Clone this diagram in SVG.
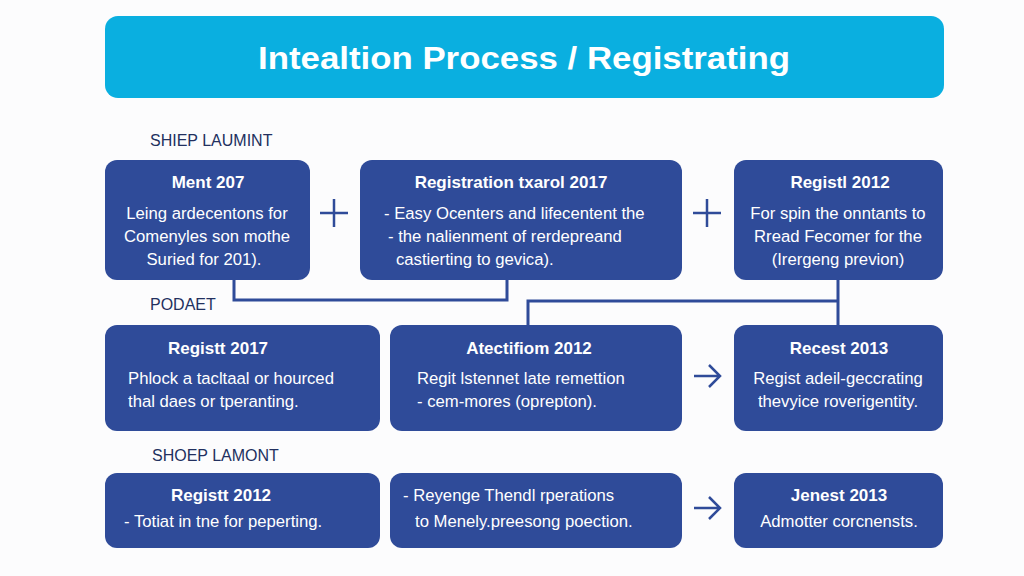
<svg xmlns="http://www.w3.org/2000/svg" width="1024" height="576" viewBox="0 0 1024 576">
<style>
.box{fill:#2f4b99}
.t{font-family:"Liberation Sans",Arial,sans-serif;font-size:17px;font-weight:bold;fill:#fff;text-anchor:middle}
.b{font-family:"Liberation Sans",Arial,sans-serif;font-size:16.7px;fill:#fff}
.c{text-anchor:middle}
.lbl{font-family:"Liberation Sans",Arial,sans-serif;font-size:16px;fill:#22305f}
.con{fill:none;stroke:#2f4b99;stroke-width:3}
.sym{fill:none;stroke:#2f4b99;stroke-width:2.5}
</style>
<rect width="1024" height="576" fill="#fcfcfd"/>
<g id="title">
<rect x="105" y="16" width="839" height="82" rx="13" fill="#0aafe0"/>
<text x="524" y="69" font-family="Liberation Sans,Arial,sans-serif" font-size="31" font-weight="bold" fill="#fff" text-anchor="middle" textLength="532" lengthAdjust="spacingAndGlyphs">Intealtion Process / Registrating</text>
</g>
<g id="labels">
<text class="lbl" x="150" y="146">SHIEP LAUMINT</text>
<text class="lbl" x="150" y="310">PODAET</text>
<text class="lbl" x="152" y="461">SHOEP LAMONT</text>
</g>
<g id="connectors">
<polyline class="con" points="234,280 234,300 507,300 507,280"/>
<polyline class="con" points="528,325 528,301 838,301"/>
<line class="con" x1="838" y1="280" x2="838" y2="325"/>
<path class="sym" d="M320 213 H348 M334 199 V227"/>
<path class="sym" d="M693 213 H721 M707 199 V227"/>
<path class="sym" d="M694 376 H719 M709 365 L720 376 L709 387"/>
<path class="sym" d="M694 508 H719 M709 497 L720 508 L709 519"/>
</g>
<g id="n1">
<rect class="box" x="105" y="160" width="205" height="120" rx="12"/>
<text class="t" x="208" y="188">Ment 207</text>
<text class="b c" x="207" y="219">Leing ardecentons for</text>
<text class="b c" x="207" y="242">Comenyles son mothe</text>
<text class="b c" x="204" y="265">Suried for 201).</text>
</g>
<g id="n2">
<rect class="box" x="360" y="160" width="322" height="120" rx="12"/>
<text class="t" x="511" y="188">Registration txarol 2017</text>
<text class="b" x="384" y="219">- Easy Ocenters and lifecentent the</text>
<text class="b" x="388" y="242">- the nalienment of rerdepreand</text>
<text class="b" x="396" y="265">castierting to gevica).</text>
</g>
<g id="n3">
<rect class="box" x="734" y="160" width="209" height="120" rx="12"/>
<text class="t" x="840" y="188">Registl 2012</text>
<text class="b c" x="838" y="219">For spin the onntants to</text>
<text class="b c" x="838" y="242">Rread Fecomer for the</text>
<text class="b c" x="838" y="265">(Irergeng previon)</text>
</g>
<g id="n4">
<rect class="box" x="105" y="325" width="275" height="106" rx="12"/>
<text class="t" x="218" y="354">Registt 2017</text>
<text class="b" x="128" y="384">Phlock a tacltaal or hourced</text>
<text class="b" x="128" y="407">thal daes or tperanting.</text>
</g>
<g id="n5">
<rect class="box" x="390" y="325" width="292" height="106" rx="12"/>
<text class="t" x="529" y="354">Atectifiom 2012</text>
<text class="b" x="417" y="384">Regit lstennet late remettion</text>
<text class="b" x="417" y="407">- cem-mores (oprepton).</text>
</g>
<g id="n6">
<rect class="box" x="734" y="325" width="209" height="106" rx="12"/>
<text class="t" x="839" y="354">Recest 2013</text>
<text class="b c" x="838" y="384">Regist adeil-geccrating</text>
<text class="b c" x="838" y="407">thevyice roverigentity.</text>
</g>
<g id="n7">
<rect class="box" x="105" y="473" width="275" height="75" rx="12"/>
<text class="t" x="221" y="501">Registt 2012</text>
<text class="b" x="124" y="527">- Totiat in tne for peperting.</text>
</g>
<g id="n8">
<rect class="box" x="390" y="473" width="292" height="75" rx="12"/>
<text class="b" x="403" y="501">- Reyenge Thendl rperations</text>
<text class="b" x="415" y="527">to Menely.preesong poection.</text>
</g>
<g id="n9">
<rect class="box" x="734" y="473" width="209" height="75" rx="12"/>
<text class="t" x="839" y="501">Jenest 2013</text>
<text class="b c" x="839" y="527">Admotter corcnensts.</text>
</g>
</svg>
